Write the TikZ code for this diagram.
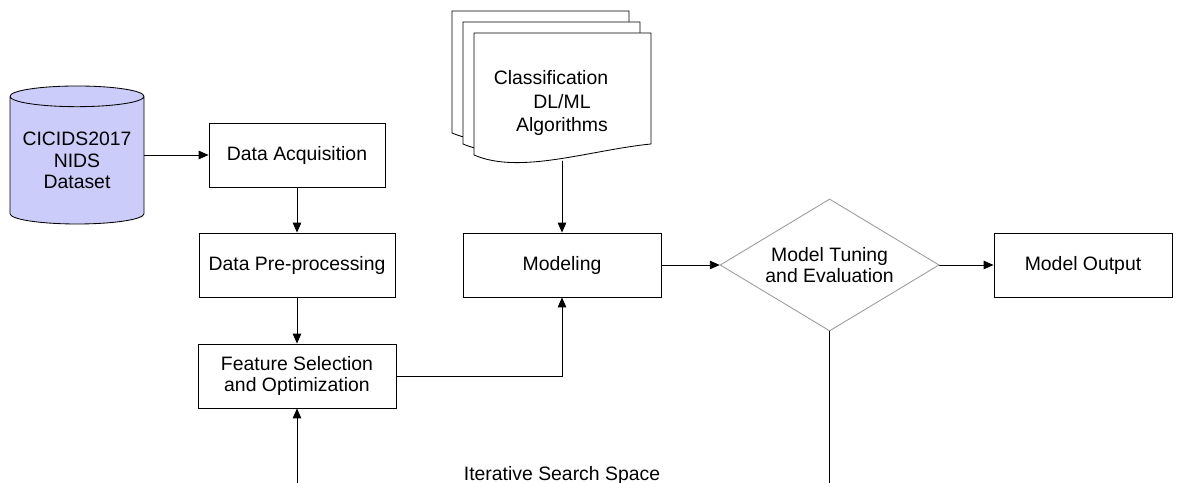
\documentclass[tikz,border=0pt]{standalone}
\usepackage{fontspec}
\setmainfont{Liberation Sans}
\usetikzlibrary{shapes.geometric,arrows.meta}

\begin{document}
\begin{tikzpicture}[line cap=round, font=\fontsize{13.8}{15.5}\selectfont]
  \tikzset{
    box/.style={draw, line width=0.6pt, minimum height=1.6cm, align=center},
    flow/.style={line width=0.6pt, -{Triangle[length=7pt,width=6pt]}},
    page/.style={draw, fill=white, line width=0.6pt}
  }
  \definecolor{dbfill}{RGB}{204,204,250}
  \useasboundingbox (0,0) rectangle (29.55,12.075);
  \clip (0,0) rectangle (29.55,12.075);

  % Dataset
  \node[box, shape=cylinder, shape border rotate=90, aspect=0.19,
        minimum width=3.35cm, minimum height=3.45cm, inner sep=0pt,
        cylinder uses custom fill, cylinder body fill=dbfill,
        cylinder end fill=dbfill, anchor=shape center] (db) at (1.925,8.2) {CICIDS2017\\NIDS\\Dataset};

  % Stack of algorithm pages
  \foreach \d in {2,1,0}
    \draw[page, shift={(-0.275*\d,0.275*\d)}]
      (11.85,11.25) -- (16.275,11.25) -- (16.275,8.475)
      .. controls (14.75,8.325) and (13.0,7.7) .. (11.85,8.2) -- cycle;
  \node[align=center] (algo) at (14.05,9.5) {Classification\hspace*{0.55cm}\\[1pt]DL/ML\\[1pt]Algorithms};
  \coordinate (algoout) at (14.05,8.05);

  % Process steps
  \node[box, minimum width=4.4cm] (acq) at (7.425,8.2) {Data Acquisition};
  \node[box, minimum width=4.9cm] (prep) at (7.425,5.45) {Data Pre-processing};
  \node[box, minimum width=4.95cm] (feat) at (7.425,2.675) {Feature Selection\\and Optimization};
  \node[box, minimum width=4.95cm] (model) at (14.05,5.45) {Modeling};
  \node[box, shape=diamond, draw=black!40, aspect=1.66, inner sep=1pt,
        minimum width=5.475cm, minimum height=3.3cm] (tune) at (20.74,5.45) {Model Tuning\\and Evaluation};
  \node[box, minimum width=4.45cm] (out) at (27.075,5.45) {Model Output};

  % Feedback loop
  \node[anchor=base] (iter) at (14.05,0.05) {Iterative Search Space};
  \coordinate (loop) at (0,-0.4);

  % Connectors
  \draw[flow] (acq.west -| db.east) -- (acq.west);
  \draw[flow] (acq) -- (prep);
  \draw[flow] (prep) -- (feat);
  \draw[flow] (algoout) -- (model);
  \draw[flow] (feat) -| (model);
  \draw[flow] (model) -- (tune);
  \draw[flow] (tune) -- (out);
  \draw[flow] (tune.south) -- (tune.south |- loop) -- (feat.south |- loop) -- (feat.south);
\end{tikzpicture}
\end{document}
